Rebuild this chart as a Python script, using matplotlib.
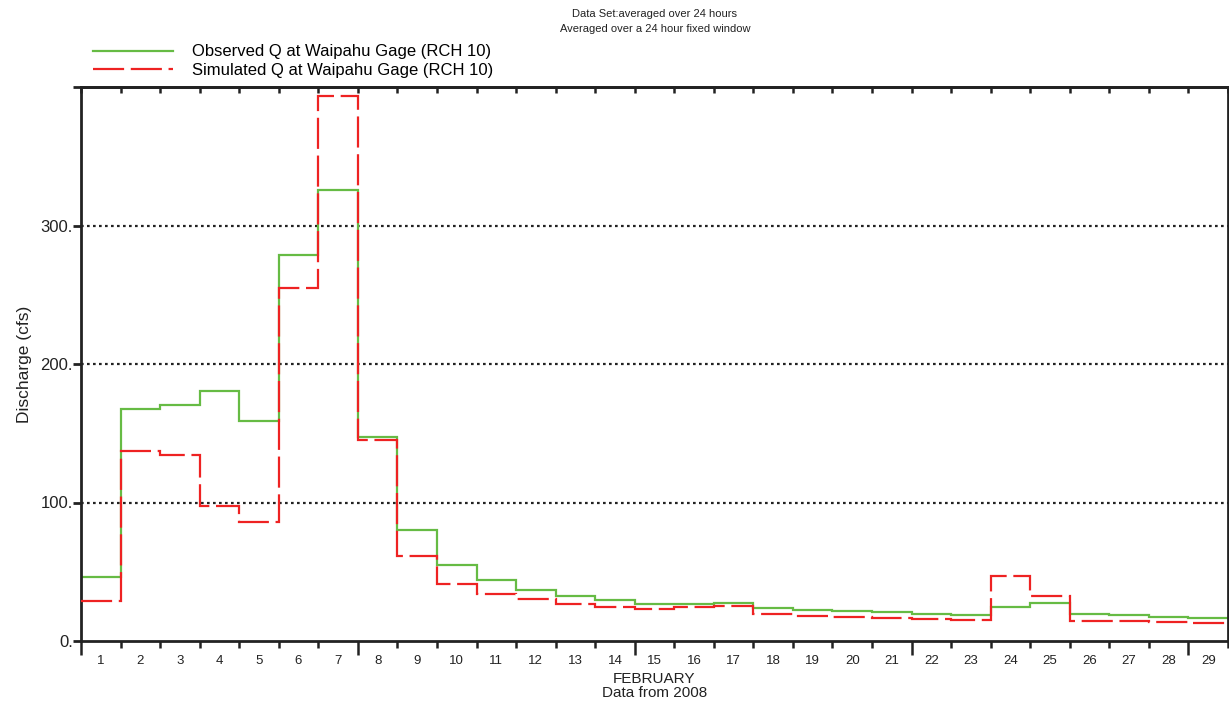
import matplotlib
matplotlib.use("Agg")
import matplotlib.pyplot as plt
from matplotlib.ticker import FixedLocator, NullFormatter, FixedFormatter
import numpy as np

plt.rcParams['font.family'] = ['Liberation Sans', 'DejaVu Sans']

# Daily mean discharge (cfs), February 2008
days = list(range(1, 30))
observed = [46.4, 167.8, 170.2, 180.7, 158.6, 278.8, 325.9, 147.6, 80.5, 55.0,
            43.7, 37.0, 32.7, 29.8, 26.9, 26.9, 27.6, 24.0, 22.6, 21.6,
            20.9, 19.7, 18.7, 24.5, 27.6, 19.7, 18.7, 17.3, 16.6]
simulated = [29.1, 137.2, 134.3, 97.8, 86.0, 254.7, 393.7, 144.9, 61.5, 41.1,
             33.6, 30.0, 26.9, 24.5, 23.3, 24.8, 25.5, 19.7, 18.0, 17.1,
             16.3, 15.9, 15.1, 46.9, 32.2, 14.6, 14.6, 13.7, 13.0]
y_ticks = [0, 100, 200, 300, 400]
y_tick_labels = ["0.", "100.", "200.", "300.", ""]
grid_levels = [100, 200, 300]

obs_label = "Observed Q at Waipahu Gage (RCH 10)"
sim_label = "Simulated Q at Waipahu Gage (RCH 10)"

fig = plt.figure(figsize=(12.29, 7.05), dpi=100)
ax = fig.add_axes([81 / 1229, 64 / 705, 1147 / 1229, 554 / 705])

edges = np.arange(len(days) + 1)
green = "#66bb44"
red = "#ee2222"
ink = "#222222"

for lvl in grid_levels:
    ax.axhline(lvl, color=ink, lw=1.6, linestyle=(0, (1.2, 1.5)), zorder=1)

ax.stairs(observed, edges, baseline=None, color=green, lw=1.6, zorder=2,
          label=obs_label)
ax.stairs(simulated, edges, baseline=None, color=red, lw=1.6, zorder=3,
          linestyle=(0, (14, 3)), label=sim_label)

ax.set_xlim(0, len(days))
ax.set_ylim(0, 400)

# Day boundaries carry the tick marks; day centres carry the labels
ax.xaxis.set_major_locator(FixedLocator(edges))
ax.xaxis.set_major_formatter(NullFormatter())
ax.xaxis.set_minor_locator(FixedLocator(edges[:-1] + 0.5))
ax.xaxis.set_minor_formatter(FixedFormatter([str(d) for d in days]))
ax.tick_params(axis="x", which="major", direction="out", length=5, width=1.8,
               color=ink)
ax.tick_params(axis="x", which="minor", length=0, labelsize=9.5, pad=10,
               labelcolor=ink)
for i, t in enumerate(ax.xaxis.get_major_ticks()):
    if edges[i] % 7 == 0:
        t.tick1line.set_markersize(10)

# Inward ticks along the top edge at every day boundary
top = ax.secondary_xaxis("top")
top.xaxis.set_major_locator(FixedLocator(edges))
top.xaxis.set_major_formatter(NullFormatter())
top.tick_params(axis="x", direction="in", length=4, width=1.8, color=ink)
top.spines["top"].set_linewidth(2.0)
top.spines["top"].set_color(ink)

ax.yaxis.set_major_locator(FixedLocator(y_ticks))
ax.yaxis.set_major_formatter(FixedFormatter(y_tick_labels))
ax.tick_params(axis="y", direction="out", length=6, width=2, color=ink,
               labelsize=12, pad=0, labelcolor=ink)

for side in ["left", "bottom", "top", "right"]:
    ax.spines[side].set_linewidth(2.0)
    ax.spines[side].set_color(ink)

ax.set_ylabel("Discharge (cfs)", fontsize=12.5, color=ink, labelpad=6)
ax.set_xlabel("FEBRUARY\nData from 2008", fontsize=11, color=ink,
              labelpad=4, linespacing=1.0)

fig.text(655 / 1229, 1 - 14 / 705, "Data Set:averaged over 24 hours",
         ha="center", va="center", fontsize=8, color=ink)
fig.text(655 / 1229, 1 - 29 / 705, "Averaged over a 24 hour fixed window",
         ha="center", va="center", fontsize=8, color=ink)

ax.legend(loc="upper left", bbox_to_anchor=(90 / 1229, 1 - 41 / 705),
          bbox_transform=fig.transFigure, frameon=False, fontsize=12,
          handlelength=4.8, handletextpad=1.1, labelspacing=0.2,
          borderpad=0.2, borderaxespad=0)

fig.savefig("out.png", dpi=100)
